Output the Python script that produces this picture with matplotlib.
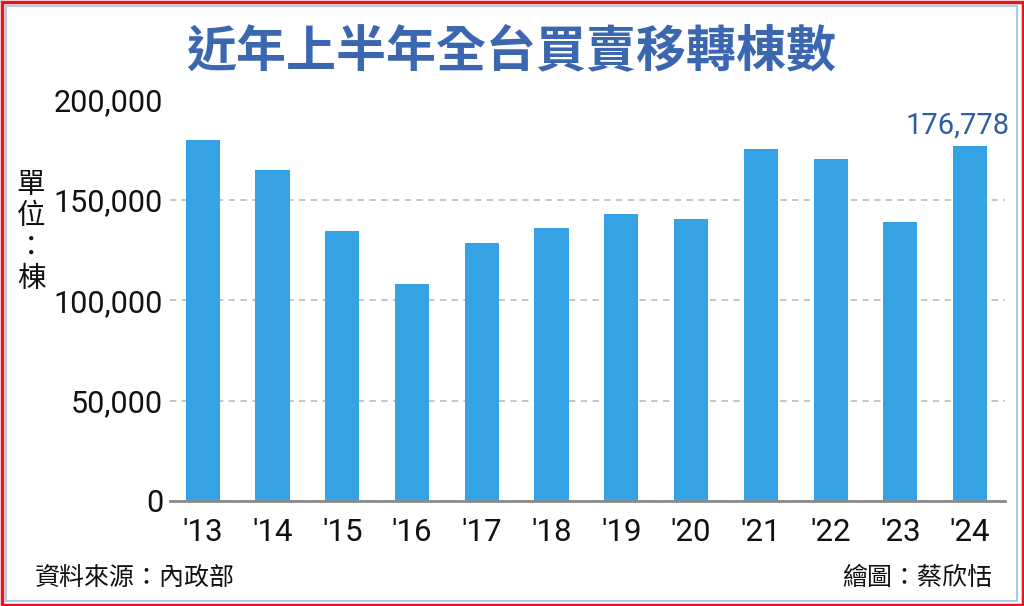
import matplotlib
matplotlib.use("Agg")
import matplotlib.pyplot as plt
from matplotlib.patches import Rectangle
from matplotlib.ticker import FuncFormatter

plt.rcParams['font.family'] = ['Roboto', 'Noto Sans CJK TC', 'DejaVu Sans']

years = ["'13", "'14", "'15", "'16", "'17", "'18", "'19", "'20", "'21", "'22", "'23", "'24"]
values = [180000, 164700, 134700, 108200, 128500, 136100, 143100, 140300, 175400, 170400, 139150, 176778]
yticks = [0, 50000, 100000, 150000, 200000]

title = "近年上半年全台買賣移轉棟數"
unit_label = "單\n位\n：\n棟"
source = "資料來源：內政部"
credit = "繪圖：蔡欣恬"

W, H = 1024, 606
fig = plt.figure(figsize=(W / 100, H / 100), dpi=100)
fig.patch.set_facecolor('white')

# borders
fig.add_artist(Rectangle((1.5 / W, 1.5 / H), 1 - 3 / W, 1 - 3 / H, transform=fig.transFigure,
                         fill=False, edgecolor='#E8141B', linewidth=2.5))
fig.add_artist(Rectangle((6 / W, 5 / H), 1 - 13 / W, 1 - 11 / H, transform=fig.transFigure,
                         fill=False, edgecolor='#A9CDEB', linewidth=1.5))

ax = fig.add_axes([170 / W, 1 - 501 / H, (1005 - 170) / W, (501 - 99.5) / H])
x = list(range(len(years)))
ax.bar(x, values, width=0.49, color='#36A2E6', zorder=3)
ax.set_xlim(-0.47, 11.5)
ax.set_ylim(0, 200000)
ax.set_yticks(yticks)
ax.yaxis.set_major_formatter(FuncFormatter(lambda v, p: f"{int(v):,}"))
ax.set_xticks(x)
ax.set_xticklabels(years)
ax.tick_params(axis='both', length=0, colors='#111111')
ax.tick_params(axis='y', pad=5, labelsize=22)
ax.tick_params(axis='x', pad=12, labelsize=22.5)
for s in ['top', 'right', 'left']:
    ax.spines[s].set_visible(False)
ax.spines['bottom'].set_color('#8A8A8A')
ax.spines['bottom'].set_linewidth(2)
ax.spines['bottom'].set_zorder(4)
ax.grid(axis='y', color='#C0C0C0', linestyle=(0, (3.5, 3)), linewidth=1.3, zorder=0)
ax.set_axisbelow(True)

ax.annotate(f"{values[-1]:,}", xy=(x[-1], values[-1]), xytext=(-9, 5), textcoords='offset points',
            ha='center', va='bottom', fontsize=21, color='#2D5DA6', annotation_clip=False)

fig.text(511 / W, 1 - 52 / H, title, ha='center', va='center', fontsize=36, fontweight='bold',
         color='#3B67B1', family=['Noto Sans CJK TC', 'DejaVu Sans'])
fig.text(31 / W, 1 - 232 / H, unit_label, ha='center', va='center', fontsize=20.5, color='#111111',
         linespacing=1.05, family=['Noto Sans CJK TC', 'DejaVu Sans'])
fig.text(35 / W, 1 - 578 / H, source, ha='left', va='center', fontsize=18, color='#111111',
         family=['Noto Sans CJK TC', 'DejaVu Sans'])
fig.text(992 / W, 1 - 578 / H, credit, ha='right', va='center', fontsize=18, color='#111111',
         family=['Noto Sans CJK TC', 'DejaVu Sans'])

fig.savefig('out.png', dpi=100)
